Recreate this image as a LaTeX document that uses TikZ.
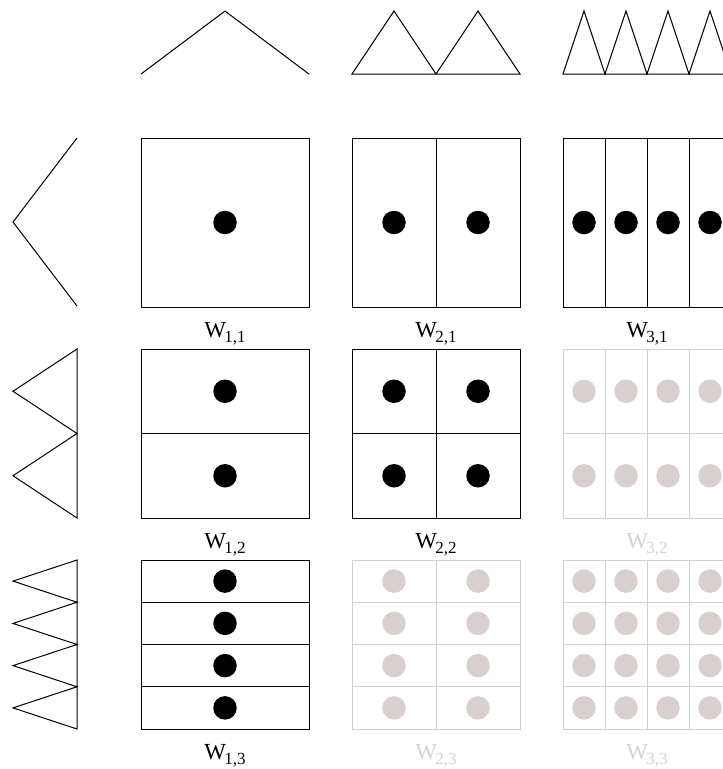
\documentclass[tikz,border=0pt]{standalone}
\usepackage{fontspec}
\setmainfont{Liberation Serif}
\definecolor{lgray}{RGB}{216,208,207}
\newcommand\wlab[2]{W\kern-1.5pt\raisebox{-0.26em}{\fontsize{17}{17}\selectfont #1,#2}}
\tikzset{
  dot/.style={circle, minimum size=23.5pt, inner sep=0pt, draw=none},
  lab/.style={anchor=base, inner sep=0pt, font=\fontsize{23}{25}\selectfont},
  ln/.style={line width=1pt, line join=miter}
}
% #1 name, #2 x, #3 y, #4 ncols, #5 nrows, #6 colour
\newcommand\cell[6]{%
  \draw[ln, #6] (#2,#3) rectangle ++(168,169);
  \foreach \k in {1,...,#4}{\ifnum\k<#4 \draw[ln, #6] ({#2+\k*168/#4},#3) -- ++(0,169);\fi}
  \foreach \k in {1,...,#5}{\ifnum\k<#5 \draw[ln, #6] (#2,{#3+\k*169/#5}) -- ++(168,0);\fi}
  \foreach \a in {1,...,#4}{\foreach \b in {1,...,#5}{
    \node[dot, fill=#6] (#1-\a-\b) at ({#2+(\a-0.5)*168/#4},{#3+(\b-0.5)*169/#5}) {};}}
}
\begin{document}
\begin{tikzpicture}[x=1pt,y=-1pt]
\useasboundingbox (0,0) rectangle (723,769);
\clip (0,0) rectangle (723,769);
% top markers
\draw[ln] (141,74) -- (225,11) -- (309,74);
\draw[ln] (352,74) -- (394,11) -- (436,74) -- (478,11) -- (520,74) -- cycle;
\draw[ln] (563,74) -- (584,11) -- (605,74) -- (626,11) -- (647,74) -- (668,11) -- (689,74) -- (710,11) -- (731,74) -- cycle;
% left markers
\draw[ln] (77,138) -- (13,222) -- (77,306);
\draw[ln] (77,349) -- (13,391.25) -- (77,433.5) -- (13,475.75) -- (77,518) -- cycle;
\draw[ln] (77,560) -- (13,581.1) -- (77,602.25) -- (13,623.4) -- (77,644.5) -- (13,665.6) -- (77,686.75) -- (13,707.9) -- (77,729) -- cycle;
% cells
\cell{w11}{141}{138}{1}{1}{black}
\cell{w21}{352}{138}{2}{1}{black}
\cell{w31}{563}{138}{4}{1}{black}
\cell{w12}{141}{349}{1}{2}{black}
\cell{w22}{352}{349}{2}{2}{black}
\cell{w32}{563}{349}{4}{2}{lgray}
\cell{w13}{141}{560}{1}{4}{black}
\cell{w23}{352}{560}{2}{4}{lgray}
\cell{w33}{563}{560}{4}{4}{lgray}
% labels
\node[lab] (l11) at (225,337) {\wlab{1}{1}};
\node[lab] (l21) at (436,337) {\wlab{2}{1}};
\node[lab] (l31) at (647,337) {\wlab{3}{1}};
\node[lab] (l12) at (225,548) {\wlab{1}{2}};
\node[lab] (l22) at (436,548) {\wlab{2}{2}};
\node[lab, text=lgray] (l32) at (647,548) {\wlab{3}{2}};
\node[lab] (l13) at (225,759) {\wlab{1}{3}};
\node[lab, text=lgray] (l23) at (436,759) {\wlab{2}{3}};
\node[lab, text=lgray] (l33) at (647,759) {\wlab{3}{3}};
\end{tikzpicture}
\end{document}
